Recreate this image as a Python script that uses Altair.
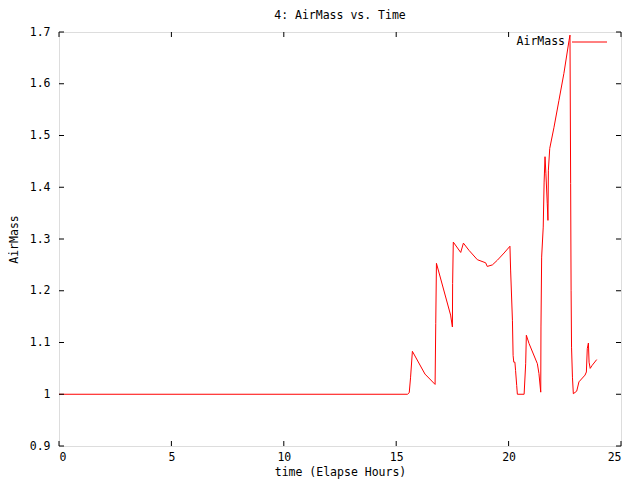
import altair as alt
import pandas as pd

# Data
time_h = [0.0, 15.50, 15.58, 15.64, 15.72, 16.28, 16.73, 16.76, 16.79, 17.42,
          17.50, 17.51, 17.54, 17.87, 17.99, 18.24, 18.61, 18.98, 19.05, 19.28,
          19.50, 19.80, 20.06, 20.09, 20.17, 20.20, 20.23, 20.28, 20.31, 20.36,
          20.39, 20.69, 20.76, 20.79, 20.91, 21.28, 21.35, 21.43, 21.44, 21.47,
          21.54, 21.58, 21.62, 21.66, 21.72, 21.75, 21.77, 21.83, 22.02, 22.24,
          22.46, 22.69, 22.73, 22.76, 22.78, 22.80, 22.84, 22.88, 23.03, 23.13,
          23.40, 23.46, 23.50, 23.55, 23.58, 23.63, 23.72, 23.92]
airmass = [1.000, 1.000, 1.003, 1.033, 1.083, 1.039, 1.019, 1.137, 1.253, 1.153,
           1.130, 1.214, 1.294, 1.274, 1.292, 1.278, 1.260, 1.254, 1.247, 1.250,
           1.259, 1.273, 1.286, 1.240, 1.143, 1.075, 1.062, 1.062, 1.046, 1.017,
           1.000, 1.000, 1.059, 1.114, 1.098, 1.059, 1.040, 1.004, 1.130, 1.265,
           1.323, 1.410, 1.459, 1.426, 1.368, 1.336, 1.433, 1.475, 1.516, 1.568,
           1.620, 1.684, 1.694, 1.407, 1.200, 1.091, 1.033, 1.001, 1.006, 1.024,
           1.037, 1.043, 1.088, 1.099, 1.062, 1.050, 1.056, 1.067]

x_ticks = [0, 5, 10, 15, 20, 25]
y_ticks = [0.9, 1.0, 1.1, 1.2, 1.3, 1.4, 1.5, 1.6, 1.7]
series_name = "AirMass"
title_text = "4: AirMass vs. Time"
x_title = "time (Elapse Hours)"
y_title = "AirMass"

W, H = 562, 414
FONT = "DejaVu Sans Mono"
FS = 11.5
TICK = 5

df = pd.DataFrame({"t": time_h, "am": airmass})
xt = pd.DataFrame({"v": x_ticks})
yt = pd.DataFrame({"v": y_ticks})

xscale = alt.Scale(domain=[0, 25], nice=False, zero=False)
yscale = alt.Scale(domain=[0.9, 1.7], nice=False, zero=False)

x_axis = alt.Axis(values=x_ticks, ticks=False, tickSize=0, domain=False, grid=False,
                  labelPadding=5, title=x_title, titlePadding=4,
                  labelFont=FONT, labelFontSize=FS, titleFont=FONT, titleFontSize=FS,
                  titleFontWeight="normal", labelColor="black", titleColor="black")
y_axis = alt.Axis(values=y_ticks, ticks=False, tickSize=0, domain=False, grid=False,
                  labelPadding=9, title=y_title, titlePadding=10,
                  labelFont=FONT, labelFontSize=FS, titleFont=FONT, titleFontSize=FS,
                  titleFontWeight="normal", labelColor="black", titleColor="black",
                  labelExpr="datum.value == 1 ? '1' : format(datum.value, '.1f')")

line = alt.Chart(df).mark_line(color="#ff0000", strokeWidth=1, interpolate="linear").encode(
    x=alt.X("t:Q", scale=xscale, axis=x_axis),
    y=alt.Y("am:Q", scale=yscale, axis=y_axis),
    order=alt.Order("t:Q"),
)

tick_style = dict(color="black", strokeWidth=1)
bottom_ticks = alt.Chart(xt).mark_rule(**tick_style).encode(
    x=alt.X("v:Q", scale=xscale), y=alt.value(H), y2=alt.value(H - TICK))
top_ticks = alt.Chart(xt).mark_rule(**tick_style).encode(
    x=alt.X("v:Q", scale=xscale), y=alt.value(0), y2=alt.value(TICK))
left_ticks = alt.Chart(yt).mark_rule(**tick_style).encode(
    y=alt.Y("v:Q", scale=yscale), x=alt.value(0), x2=alt.value(TICK))
right_ticks = alt.Chart(yt).mark_rule(**tick_style).encode(
    y=alt.Y("v:Q", scale=yscale), x=alt.value(W), x2=alt.value(W - TICK))

leg_df = pd.DataFrame({"name": [series_name]})
legend_text = alt.Chart(leg_df).mark_text(
    align="right", baseline="middle", font=FONT, fontSize=FS, color="black"
).encode(text="name:N", x=alt.value(506), y=alt.value(10))
legend_line = alt.Chart(leg_df).mark_rule(color="#ff0000", strokeWidth=1).encode(
    x=alt.value(513), x2=alt.value(548), y=alt.value(10))

title_df = pd.DataFrame({"title": [title_text]})
title_mark = alt.Chart(title_df).mark_text(
    align="center", baseline="middle", font=FONT, fontSize=FS, color="black"
).encode(text="title:N", x=alt.value(W / 2), y=alt.value(-16))

chart = alt.layer(
    line, bottom_ticks, top_ticks, left_ticks, right_ticks, legend_text, legend_line,
    title_mark
).properties(
    width=W, height=H,
    autosize=alt.AutoSizeParams(type="none"),
    padding={"left": 51, "top": 24, "right": 10, "bottom": 33},
).configure_view(stroke="black", strokeWidth=1).configure(background="white")

chart.save("out.html", embed_options={"renderer": "svg", "actions": False})
